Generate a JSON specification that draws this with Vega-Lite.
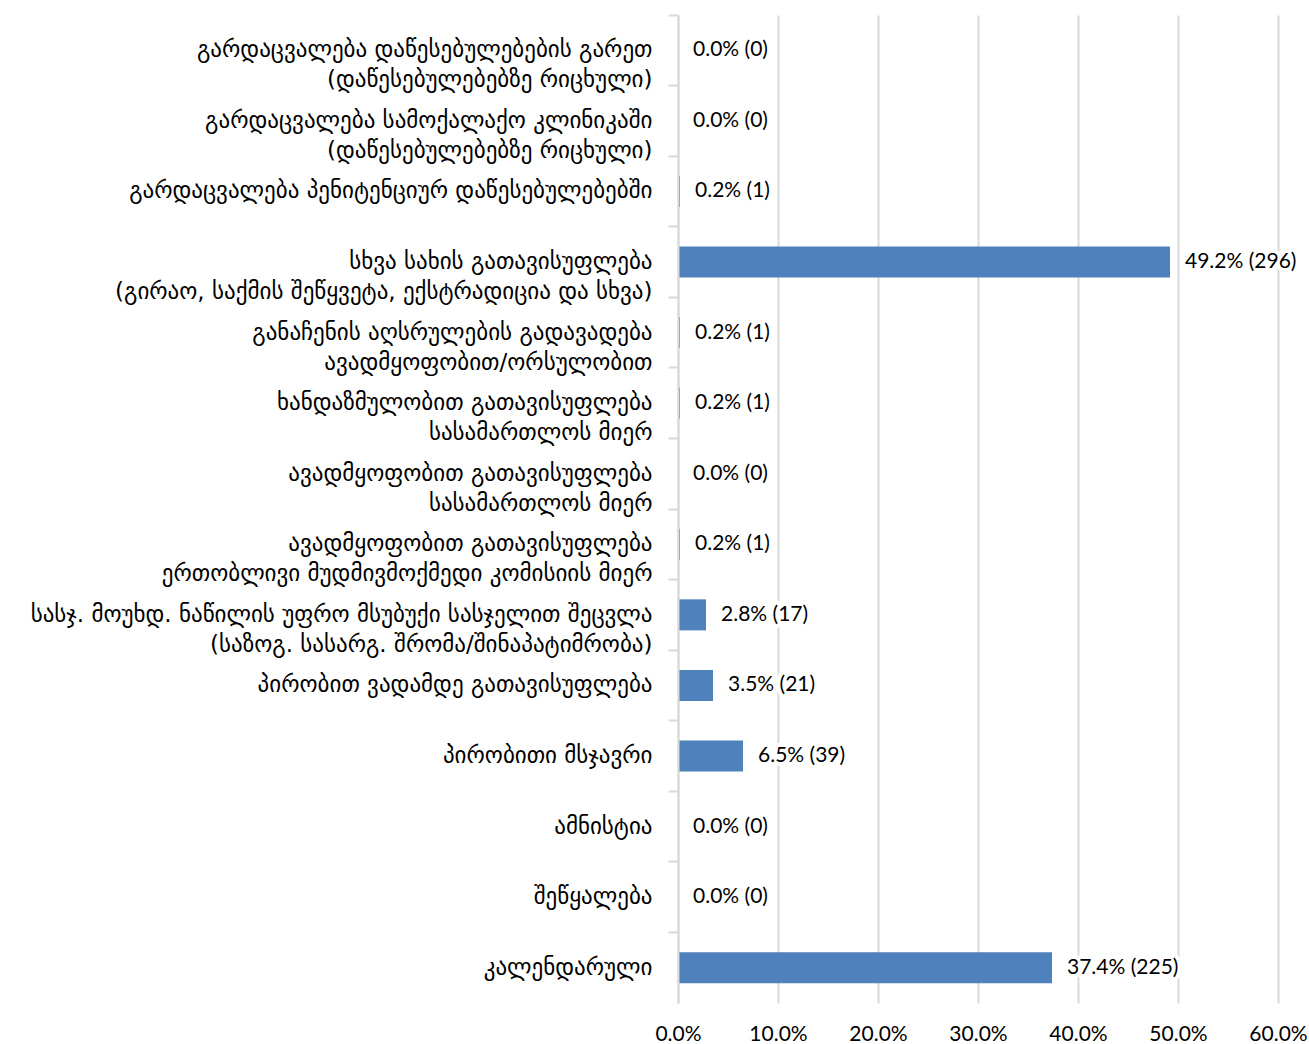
{
  "$schema": "https://vega.github.io/schema/vega-lite/v6.json",
  "width": 600,
  "height": 988,
  "autosize": "none",
  "padding": {"left": 678, "top": 15, "right": 31, "bottom": 41},
  "background": "white",
  "config": {"view": {"stroke": null}},
  "data": {
    "values": [
      {"category": "გარდაცვალება დაწესებულებების გარეთ|(დაწესებულებებზე რიცხული)", "pct": 0.0, "count": 0},
      {"category": "გარდაცვალება სამოქალაქო კლინიკაში|(დაწესებულებებზე რიცხული)", "pct": 0.0, "count": 0},
      {"category": "გარდაცვალება პენიტენციურ დაწესებულებებში", "pct": 0.002, "count": 1},
      {"category": "სხვა სახის გათავისუფლება|(გირაო, საქმის შეწყვეტა, ექსტრადიცია და სხვა)", "pct": 0.492, "count": 296},
      {"category": "განაჩენის აღსრულების გადავადება|ავადმყოფობით/ორსულობით", "pct": 0.002, "count": 1},
      {"category": "ხანდაზმულობით გათავისუფლება|სასამართლოს მიერ", "pct": 0.002, "count": 1},
      {"category": "ავადმყოფობით გათავისუფლება|სასამართლოს მიერ", "pct": 0.0, "count": 0},
      {"category": "ავადმყოფობით გათავისუფლება|ერთობლივი მუდმივმოქმედი კომისიის მიერ", "pct": 0.002, "count": 1},
      {"category": "სასჯ. მოუხდ. ნაწილის უფრო მსუბუქი სასჯელით შეცვლა|(საზოგ. სასარგ. შრომა/შინაპატიმრობა)", "pct": 0.028, "count": 17},
      {"category": "პირობით ვადამდე გათავისუფლება", "pct": 0.035, "count": 21},
      {"category": "პირობითი მსჯავრი", "pct": 0.065, "count": 39},
      {"category": "ამნისტია", "pct": 0.0, "count": 0},
      {"category": "შეწყალება", "pct": 0.0, "count": 0},
      {"category": "კალენდარული", "pct": 0.374, "count": 225}
    ]
  },
  "transform": [
    {"calculate": "format(datum.pct, '.1%') + ' (' + datum.count + ')'", "as": "label"}
  ],
  "encoding": {
    "y": {
      "field": "category",
      "type": "nominal",
      "sort": null,
      "scale": {"paddingInner": 0, "paddingOuter": 0},
      "axis": {
        "title": null,
        "zindex": 1,
        "labelExpr": "split(datum.label, '|')",
        "labelFont": "DejaVu Sans",
        "labelFontSize": 23,
        "labelLineHeight": 30,
        "labelColor": "#000000",
        "labelPadding": 16,
        "labelLimit": 700,
        "bandPosition": 0,
        "ticks": true,
        "tickSize": 10,
        "tickColor": "#d9d9d9",
        "tickWidth": 2,
        "domainColor": "#d9d9d9",
        "domainWidth": 2,
        "grid": false
      }
    },
    "x": {
      "field": "pct",
      "type": "quantitative",
      "scale": {"domain": [0, 0.6], "nice": false},
      "axis": {
        "title": null,
        "format": ".1%",
        "values": [0, 0.1, 0.2, 0.3, 0.4, 0.5, 0.6],
        "grid": true,
        "gridColor": "#d9d9d9",
        "gridWidth": 2,
        "domain": false,
        "ticks": false,
        "labelFlush": false,
        "labelOverlap": false,
        "labelFont": "Lato",
        "labelFontSize": 21,
        "labelColor": "#000000",
        "labelPadding": 20
      }
    }
  },
  "layer": [
    {
      "mark": {"type": "bar", "color": "#4F81BD", "height": {"band": 0.44}}
    },
    {
      "mark": {"type": "text", "align": "left", "baseline": "middle", "dx": 15, "font": "Lato", "fontSize": 21, "stroke": "white", "strokeWidth": 8, "strokeJoin": "round", "fill": "white"},
      "encoding": {"text": {"field": "label"}}
    },
    {
      "mark": {"type": "text", "align": "left", "baseline": "middle", "dx": 15, "font": "Lato", "fontSize": 21, "color": "#000000"},
      "encoding": {"text": {"field": "label"}}
    }
  ]
}
